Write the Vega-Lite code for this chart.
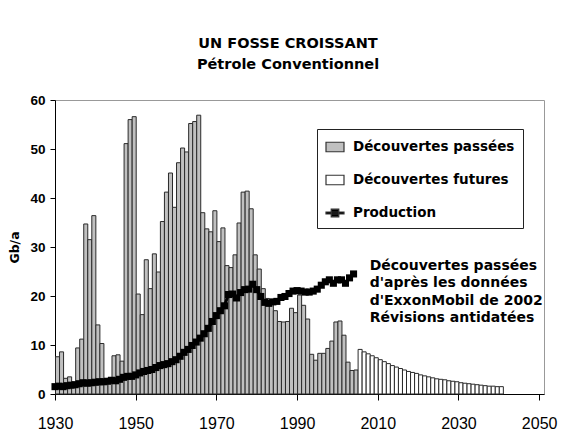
{
  "$schema": "https://vega.github.io/schema/vega-lite/v6.json",
  "width": 489,
  "height": 294,
  "autosize": {"type": "none"},
  "padding": {"left": 55, "top": 100, "right": 39, "bottom": 45},
  "background": "white",
  "config": {"view": {"stroke": "#999999", "strokeWidth": 1}, "font": "DejaVu Sans"},
  "title": {
    "text": ["UN FOSSE CROISSANT", "Pétrole Conventionnel"],
    "font": "DejaVu Sans", "fontWeight": "bold", "fontSize": 14.5, "lineHeight": 21,
    "anchor": "middle", "dx": -11.5, "offset": 21, "color": "black"
  },
  "datasets": {
    "passees": [
      {"year":1930,"value":7.6},{"year":1931,"value":8.6},{"year":1932,"value":3.2},{"year":1933,"value":3.5},{"year":1934,"value":2.0},
      {"year":1935,"value":9.4},{"year":1936,"value":11.2},{"year":1937,"value":34.7},{"year":1938,"value":31.5},{"year":1939,"value":36.4},
      {"year":1940,"value":14.1},{"year":1941,"value":10.3},{"year":1942,"value":2.5},{"year":1943,"value":3.3},{"year":1944,"value":7.8},
      {"year":1945,"value":8.0},{"year":1946,"value":6.7},{"year":1947,"value":51.1},{"year":1948,"value":56.0},{"year":1949,"value":56.6},
      {"year":1950,"value":20.4},{"year":1951,"value":16.2},{"year":1952,"value":27.4},{"year":1953,"value":21.5},{"year":1954,"value":28.6},
      {"year":1955,"value":24.9},{"year":1956,"value":35.2},{"year":1957,"value":41.2},{"year":1958,"value":45.1},{"year":1959,"value":38.1},
      {"year":1960,"value":47.2},{"year":1961,"value":50.2},{"year":1962,"value":49.4},{"year":1963,"value":55.2},{"year":1964,"value":55.6},
      {"year":1965,"value":56.9},{"year":1966,"value":37.0},{"year":1967,"value":33.7},{"year":1968,"value":33.1},{"year":1969,"value":37.4},
      {"year":1970,"value":31.1},{"year":1971,"value":33.9},{"year":1972,"value":26.2},{"year":1973,"value":25.8},{"year":1974,"value":28.4},
      {"year":1975,"value":34.9},{"year":1976,"value":41.2},{"year":1977,"value":41.4},{"year":1978,"value":37.8},{"year":1979,"value":28.4},
      {"year":1980,"value":25.5},{"year":1981,"value":21.5},{"year":1982,"value":19.5},{"year":1983,"value":19.0},{"year":1984,"value":17.0},
      {"year":1985,"value":14.8},{"year":1986,"value":14.7},{"year":1987,"value":14.8},{"year":1988,"value":17.5},{"year":1989,"value":16.6},
      {"year":1990,"value":20.2},{"year":1991,"value":18.1},{"year":1992,"value":15.3},{"year":1993,"value":8.1},{"year":1994,"value":6.9},
      {"year":1995,"value":8.3},{"year":1996,"value":8.3},{"year":1997,"value":9.3},{"year":1998,"value":10.8},{"year":1999,"value":14.7},
      {"year":2000,"value":14.9},{"year":2001,"value":12.0},{"year":2002,"value":6.5},{"year":2003,"value":4.8},{"year":2004,"value":4.9}
    ],
    "futures": [
      {"year":2005,"value":9.1},{"year":2006,"value":8.6},{"year":2007,"value":8.2},{"year":2008,"value":7.8},{"year":2009,"value":7.4},
      {"year":2010,"value":7.0},{"year":2011,"value":6.6},{"year":2012,"value":6.2},{"year":2013,"value":5.8},{"year":2014,"value":5.5},
      {"year":2015,"value":5.2},{"year":2016,"value":4.9},{"year":2017,"value":4.6},{"year":2018,"value":4.4},{"year":2019,"value":4.2},
      {"year":2020,"value":3.9},{"year":2021,"value":3.7},{"year":2022,"value":3.5},{"year":2023,"value":3.3},{"year":2024,"value":3.1},
      {"year":2025,"value":3.0},{"year":2026,"value":2.9},{"year":2027,"value":2.7},{"year":2028,"value":2.6},{"year":2029,"value":2.5},
      {"year":2030,"value":2.3},{"year":2031,"value":2.2},{"year":2032,"value":2.1},{"year":2033,"value":2.0},{"year":2034,"value":1.9},
      {"year":2035,"value":1.8},{"year":2036,"value":1.7},{"year":2037,"value":1.6},{"year":2038,"value":1.6},{"year":2039,"value":1.5},
      {"year":2040,"value":1.5}
    ],
    "production": [
      {"year":1930,"value":1.5},{"year":1931,"value":1.6},{"year":1932,"value":1.5},{"year":1933,"value":1.7},{"year":1934,"value":1.8},
      {"year":1935,"value":1.9},{"year":1936,"value":2.1},{"year":1937,"value":2.3},{"year":1938,"value":2.2},{"year":1939,"value":2.3},
      {"year":1940,"value":2.4},{"year":1941,"value":2.5},{"year":1942,"value":2.5},{"year":1943,"value":2.6},{"year":1944,"value":2.8},
      {"year":1945,"value":2.7},{"year":1946,"value":3.0},{"year":1947,"value":3.4},{"year":1948,"value":3.6},{"year":1949,"value":3.6},
      {"year":1950,"value":3.9},{"year":1951,"value":4.3},{"year":1952,"value":4.6},{"year":1953,"value":4.8},{"year":1954,"value":5.0},
      {"year":1955,"value":5.4},{"year":1956,"value":5.8},{"year":1957,"value":6.0},{"year":1958,"value":6.2},{"year":1959,"value":6.6},
      {"year":1960,"value":7.0},{"year":1961,"value":7.7},{"year":1962,"value":8.5},{"year":1963,"value":9.1},{"year":1964,"value":9.9},
      {"year":1965,"value":10.6},{"year":1966,"value":11.4},{"year":1967,"value":12.3},{"year":1968,"value":13.4},{"year":1969,"value":14.8},
      {"year":1970,"value":16.0},{"year":1971,"value":17.0},{"year":1972,"value":18.0},{"year":1973,"value":20.3},{"year":1974,"value":20.4},
      {"year":1975,"value":19.6},{"year":1976,"value":20.7},{"year":1977,"value":21.3},{"year":1978,"value":21.4},{"year":1979,"value":22.4},
      {"year":1980,"value":21.3},{"year":1981,"value":19.9},{"year":1982,"value":18.7},{"year":1983,"value":18.5},{"year":1984,"value":18.8},
      {"year":1985,"value":18.9},{"year":1986,"value":19.7},{"year":1987,"value":19.9},{"year":1988,"value":20.5},{"year":1989,"value":21.0},
      {"year":1990,"value":21.1},{"year":1991,"value":21.0},{"year":1992,"value":20.8},{"year":1993,"value":20.8},{"year":1994,"value":21.0},
      {"year":1995,"value":21.4},{"year":1996,"value":22.2},{"year":1997,"value":22.9},{"year":1998,"value":23.3},{"year":1999,"value":22.6},
      {"year":2000,"value":23.3},{"year":2001,"value":23.3},{"year":2002,"value":22.6},{"year":2003,"value":23.7},{"year":2004,"value":24.5}
    ]
  },
  "layer": [
    {
      "data": {"name": "passees"},
      "mark": {"type": "bar", "stroke": "#2a2a2a", "strokeWidth": 1, "binSpacing": 0},
      "encoding": {
        "x": {"field": "year", "type": "quantitative", "bin": {"step": 1, "extent": [1930, 2041]},
              "scale": {"domain": [1930, 2051.2], "nice": false, "zero": false},
              "axis": {"title": null, "values": [1930,1950,1970,1990,2010,2030,2050], "format": "d",
                       "labelFont": "Liberation Sans", "labelFontSize": 16, "labelColor": "black", "labelFlush": false,
                       "tickSize": 6, "labelPadding": 15, "domainColor": "black", "tickColor": "black", "grid": false}},
        "y": {"field": "value", "type": "quantitative", "scale": {"domain": [0, 60], "nice": false},
              "axis": {"title": "Gb/a", "titleFont": "DejaVu Sans", "titleFontWeight": "bold", "titleFontSize": 12.5,
                       "titleColor": "black", "titlePadding": 8, "values": [0,10,20,30,40,50,60],
                       "labelFont": "Liberation Sans", "labelFontWeight": "bold", "labelFontSize": 13.5, "labelColor": "black",
                       "tickColor": "black", "domainColor": "black", "tickSize": 5, "labelPadding": 5, "grid": false}},
        "color": {"datum": "Découvertes passées", "type": "nominal",
                  "scale": {"domain": ["Découvertes passées", "Découvertes futures", "Production"],
                            "range": ["#c0c0c0", "#ffffff", "#000000"]},
                  "legend": {"title": null, "orient": "none", "legendX": 262, "legendY": 29, "padding": 8,
                             "strokeColor": "#222222", "fillColor": "white",
                             "labelFont": "DejaVu Sans", "labelFontWeight": "bold", "labelFontSize": 13.5, "labelColor": "black",
                             "labelLimit": 300, "symbolSize": 324, "rowPadding": 15, "labelOffset": 8,
                             "symbolStrokeWidth": 1.2, "symbolStrokeColor": "#333333", "symbolOpacity": 1,
                             "encode": {"symbols": {"update": {
                               "shape": {"signal": "datum.value === 'Production' ? 'M-1,-0.11H1V0.11H-1Z M-0.42,-0.42H0.42V0.42H-0.42Z' : 'M-1,-0.53H1V0.53H-1Z'"},
                               "stroke": {"value": "#333333"},
                               "strokeWidth": {"value": 1.2}
                             }}}}}
      }
    },
    {
      "data": {"name": "futures"},
      "mark": {"type": "bar", "stroke": "#2a2a2a", "strokeWidth": 1, "binSpacing": 0},
      "encoding": {
        "x": {"field": "year", "type": "quantitative", "bin": {"step": 1, "extent": [1930, 2041]},
              "scale": {"domain": [1930, 2051.2], "nice": false, "zero": false},
              "axis": {"title": null, "values": [1930,1950,1970,1990,2010,2030,2050], "format": "d",
                       "labelFont": "Liberation Sans", "labelFontSize": 16, "labelColor": "black", "labelFlush": false,
                       "tickSize": 6, "labelPadding": 15, "domainColor": "black", "tickColor": "black", "grid": false}},
        "y": {"field": "value", "type": "quantitative"},
        "color": {"datum": "Découvertes futures", "type": "nominal"}
      }
    },
    {
      "data": {"name": "production"},
      "mark": {"type": "line", "strokeWidth": 3, "color": "black", "point": {"shape": "square", "size": 50, "filled": true, "color": "black"}},
      "encoding": {
        "x": {"field": "year", "type": "quantitative",
              "scale": {"domain": [1930, 2051.2], "nice": false, "zero": false},
              "axis": {"title": null, "values": [1930,1950,1970,1990,2010,2030,2050], "format": "d",
                       "labelFont": "Liberation Sans", "labelFontSize": 16, "labelColor": "black", "labelFlush": false,
                       "tickSize": 6, "labelPadding": 15, "domainColor": "black", "tickColor": "black", "grid": false}},
        "y": {"field": "value", "type": "quantitative"}
      }
    },
    {
      "data": {"values": [{"note": "annotation"}]},
      "mark": {"type": "text", "align": "left", "baseline": "top", "font": "DejaVu Sans", "fontWeight": "bold",
               "fontSize": 14, "lineHeight": 17.5, "color": "black"},
      "encoding": {
        "x": {"datum": 2008},
        "y": {"datum": 27.6},
        "text": {"value": ["Découvertes passées", "d'après les données", "d'ExxonMobil de 2002", "Révisions antidatées"]}
      }
    }
  ]
}
